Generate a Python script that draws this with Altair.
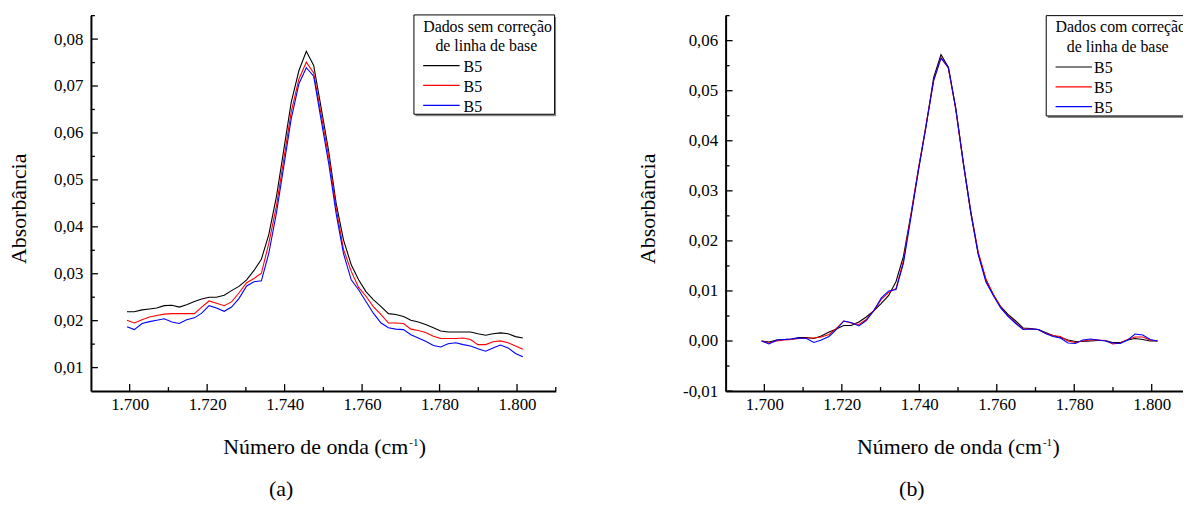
import altair as alt
import pandas as pd

# ---------------- data ----------------
wavenumber = [1699.3, 1701.2, 1703.2, 1705.1, 1707.0, 1708.9, 1710.9, 1712.8, 1714.7, 1716.7,
              1718.6, 1720.5, 1722.4, 1724.4, 1726.3, 1728.2, 1730.2, 1732.1, 1734.0, 1735.9,
              1737.9, 1739.8, 1741.7, 1743.7, 1745.6, 1747.5, 1749.4, 1751.4, 1753.3, 1755.2,
              1757.2, 1759.1, 1761.0, 1762.9, 1764.9, 1766.8, 1768.7, 1770.7, 1772.6, 1774.5,
              1776.4, 1778.4, 1780.3, 1782.2, 1784.2, 1786.1, 1788.0, 1789.9, 1791.9, 1793.8,
              1795.7, 1797.7, 1799.6, 1801.5]

# (a) sem correção de linha de base
left_black = [0.0219, 0.0219, 0.0223, 0.0225, 0.0227, 0.0232, 0.0233, 0.0229, 0.0234, 0.0241,
              0.0246, 0.0250, 0.0250, 0.0254, 0.0264, 0.0273, 0.0287, 0.0307, 0.0331, 0.0383,
              0.0465, 0.0565, 0.0665, 0.0733, 0.0774, 0.0744, 0.0655, 0.0560, 0.0450, 0.0372,
              0.0319, 0.0287, 0.0262, 0.0245, 0.0230, 0.0215, 0.0213, 0.0209, 0.0201, 0.0197,
              0.0192, 0.0185, 0.0178, 0.0176, 0.0176, 0.0176, 0.0176, 0.0172, 0.0169, 0.0172,
              0.0174, 0.0172, 0.0166, 0.0163]
left_red = [0.0201, 0.0195, 0.0202, 0.0208, 0.0211, 0.0214, 0.0215, 0.0215, 0.0215, 0.0215,
            0.0229, 0.0242, 0.0237, 0.0232, 0.0240, 0.0259, 0.0281, 0.0290, 0.0301, 0.0364,
            0.0445, 0.0545, 0.0645, 0.0715, 0.0751, 0.0728, 0.0640, 0.0548, 0.0440, 0.0352,
            0.0305, 0.0271, 0.0252, 0.0230, 0.0213, 0.0195, 0.0195, 0.0194, 0.0182, 0.0179,
            0.0175, 0.0167, 0.0162, 0.0162, 0.0162, 0.0163, 0.0160, 0.0149, 0.0149, 0.0155,
            0.0157, 0.0153, 0.0146, 0.0139]
left_blue = [0.0187, 0.0181, 0.0194, 0.0198, 0.0201, 0.0204, 0.0197, 0.0194, 0.0202, 0.0206,
             0.0216, 0.0232, 0.0227, 0.0220, 0.0229, 0.0247, 0.0274, 0.0283, 0.0285, 0.0343,
             0.0430, 0.0530, 0.0630, 0.0705, 0.0739, 0.0721, 0.0629, 0.0534, 0.0428, 0.0343,
             0.0287, 0.0266, 0.0241, 0.0216, 0.0195, 0.0185, 0.0182, 0.0181, 0.0170, 0.0163,
             0.0156, 0.0147, 0.0144, 0.0151, 0.0153, 0.0149, 0.0146, 0.0140, 0.0135, 0.0142,
             0.0148, 0.0142, 0.0130, 0.0123]

# (b) com correção de linha de base
right_black = [0.0000, -0.0002, 0.0002, 0.0003, 0.0004, 0.0007, 0.0007, 0.0005, 0.0010, 0.0018,
               0.0024, 0.0031, 0.0031, 0.0038, 0.0048, 0.0060, 0.0075, 0.0091, 0.0119, 0.0169,
               0.0255, 0.0344, 0.0427, 0.0526, 0.0572, 0.0547, 0.0466, 0.0354, 0.0255, 0.0175,
               0.0122, 0.0093, 0.0069, 0.0053, 0.0040, 0.0026, 0.0025, 0.0023, 0.0017, 0.0011,
               0.0007, 0.0002, -0.0001, -0.0001, 0.0000, 0.0001, 0.0001, -0.0003, -0.0003, 0.0002,
               0.0005, 0.0003, 0.0000, 0.0000]
right_red = [0.0000, -0.0004, 0.0000, 0.0002, 0.0003, 0.0005, 0.0006, 0.0006, 0.0008, 0.0013,
             0.0025, 0.0040, 0.0036, 0.0033, 0.0043, 0.0060, 0.0083, 0.0097, 0.0105, 0.0160,
             0.0255, 0.0345, 0.0430, 0.0520, 0.0566, 0.0545, 0.0463, 0.0353, 0.0258, 0.0178,
             0.0124, 0.0093, 0.0068, 0.0050, 0.0036, 0.0024, 0.0024, 0.0023, 0.0015, 0.0011,
             0.0009, 0.0000, -0.0003, 0.0000, 0.0002, 0.0002, 0.0001, -0.0006, -0.0004, 0.0003,
             0.0008, 0.0008, 0.0002, 0.0000]
right_blue = [0.0000, -0.0006, 0.0002, 0.0003, 0.0004, 0.0006, 0.0005, -0.0003, 0.0002, 0.0009,
              0.0023, 0.0040, 0.0037, 0.0030, 0.0041, 0.0060, 0.0086, 0.0100, 0.0103, 0.0155,
              0.0250, 0.0342, 0.0427, 0.0520, 0.0565, 0.0547, 0.0465, 0.0355, 0.0258, 0.0173,
              0.0118, 0.0091, 0.0066, 0.0049, 0.0035, 0.0023, 0.0024, 0.0023, 0.0015, 0.0009,
              0.0006, -0.0004, -0.0005, 0.0002, 0.0004, 0.0002, 0.0000, -0.0004, -0.0005, 0.0002,
              0.0014, 0.0012, 0.0003, 0.0000]

series_keys = ["B5 (1)", "B5 (2)", "B5 (3)"]
series_colors = ["#000000", "#ff0000", "#0000ff"]
legend_labels = ["B5", "B5", "B5"]
left_legend_title = ["Dados sem correção", "de linha de base"]
right_legend_title = ["Dados com correção", "de linha de base"]
captions = ["(a)", "(b)"]
x_title_main = "Número de onda (cm"
x_title_sup = "-1"
x_title_end = ")"
y_title = "Absorbância"

x_label_values = [1700, 1720, 1740, 1760, 1780, 1800]
x_minor_values = [1710, 1730, 1750, 1770, 1790, 1810]
left_y_major = [0.01, 0.02, 0.03, 0.04, 0.05, 0.06, 0.07, 0.08]
left_y_minor = [0.015, 0.025, 0.035, 0.045, 0.055, 0.065, 0.075, 0.085]
right_y_major = [-0.01, 0.0, 0.01, 0.02, 0.03, 0.04, 0.05, 0.06]
right_y_minor = [-0.005, 0.005, 0.015, 0.025, 0.035, 0.045, 0.055, 0.065]

# ---------------- layout ----------------
FONT = "Liberation Serif"
W, H = 1183, 493
AXIS_Y = 384          # x-axis line (svg px)
TOP_Y = 6             # top of y-axis
LEGEND_FS = 16

one = pd.DataFrame({"k": [0]})
color_scale = alt.Scale(domain=series_keys, range=series_colors)

X_LABEL_EXPR = "replace(format(datum.value, ',d'), ',', '.')"
Y_LABEL_EXPR = "replace(replace(format(datum.value, '.2f'), '.', ','), '\u2212', '-')"


def long_frame(ys):
    xs, vs, ss = [], [], []
    for key, vals in zip(series_keys, ys):
        xs += wavenumber
        vs += vals
        ss += [key] * len(vals)
    return pd.DataFrame({"x": xs, "y": vs, "series": ss})


def text(s, x, y, size, align="left", baseline="alphabetic"):
    return alt.Chart(one).mark_text(text=s, font=FONT, fontSize=size, color="black",
                                    align=align, baseline=baseline).encode(
        x=alt.value(x), y=alt.value(y))


def panel(ys, x_range, y_domain, y_major, y_minor, title_dx, title_y,
          legend_box, legend_title, legend_title_x, legend_title_y,
          legend_line_x, legend_rows_y, legend_label_x, xtitle_end_x, caption, caption_x):
    xs = alt.Scale(domain=[1690, 1810], range=x_range, nice=False, zero=False)
    ysc = alt.Scale(domain=y_domain, range=[AXIS_Y, TOP_Y], nice=False, zero=False)
    ax0 = x_range[0]

    x_axis = alt.Axis(orient="bottom", offset=AXIS_Y - H, values=x_label_values,
                      labelExpr=X_LABEL_EXPR, ticks=False, tickSize=0, grid=False,
                      domainColor="black", domainWidth=2, labelFont=FONT, labelFontSize=17,
                      labelColor="black", labelPadding=6, labelFlush=False, labelOverlap=False,
                      title="")
    y_axis = alt.Axis(orient="left", offset=-ax0, values=y_major, labelExpr=Y_LABEL_EXPR,
                      ticks=False, tickSize=0, grid=False, domainColor="black", domainWidth=2,
                      labelFont=FONT, labelFontSize=17, labelColor="black", labelPadding=8,
                      labelFlush=False, labelOverlap=False,
                      title=y_title, titleFont=FONT, titleFontSize=22, titleFontWeight="normal",
                      titleColor="black", titleAngle=270, titleBaseline="middle",
                      titleAlign="center", titleX=title_dx, titleY=title_y)

    lines = alt.Chart(long_frame(ys)).mark_line(strokeWidth=1.1).encode(
        x=alt.X("x:Q", scale=xs, axis=x_axis),
        y=alt.Y("y:Q", scale=ysc, axis=y_axis),
        color=alt.Color("series:N", scale=color_scale, legend=None),
    )

    def xticks(vals, length):
        return alt.Chart(pd.DataFrame({"v": vals})).mark_rule(color="black", strokeWidth=1.3).encode(
            x=alt.X("v:Q", scale=xs, axis=None), y=alt.value(AXIS_Y), y2=alt.value(AXIS_Y - length))

    def yticks(vals, length):
        return alt.Chart(pd.DataFrame({"v": vals})).mark_rule(color="black", strokeWidth=1.3).encode(
            y=alt.Y("v:Q", scale=ysc, axis=None), x=alt.value(ax0), x2=alt.value(ax0 + length))

    layers = [lines, xticks(x_label_values, 7), xticks(x_minor_values, 4),
              yticks(y_major, 7), yticks(y_minor, 4)]

    # legend box
    bx0, bx1, by0, by1 = legend_box
    layers.append(alt.Chart(one).mark_rect(color="#8a8a8a").encode(
        x=alt.value(bx0 + 1.5), x2=alt.value(bx1 + 1.5), y=alt.value(by0 + 2), y2=alt.value(by1 + 2)))
    layers.append(alt.Chart(one).mark_rect(fill="white", stroke="black", strokeWidth=1).encode(
        x=alt.value(bx0), x2=alt.value(bx1), y=alt.value(by0), y2=alt.value(by1)))
    for line, tx, ty in zip(legend_title, legend_title_x, legend_title_y):
        layers.append(text(line, tx, ty, LEGEND_FS))
    for key_color, label, ry in zip(series_colors, legend_labels, legend_rows_y):
        layers.append(alt.Chart(one).mark_rule(color=key_color, strokeWidth=1.2).encode(
            x=alt.value(legend_line_x[0]), x2=alt.value(legend_line_x[1]), y=alt.value(ry)))
        layers.append(text(label, legend_label_x, ry + 6.3, LEGEND_FS))

    # x-axis title with superscript and caption
    layers.append(text(x_title_main, xtitle_end_x, 447, 22, align="right"))
    layers.append(text(x_title_sup, xtitle_end_x + 1, 439, 11))
    layers.append(text(x_title_end, xtitle_end_x + 10.5, 447, 22))
    layers.append(text(caption, caption_x, 490, 22, align="center"))
    return layers


left_layers = panel(
    [left_black, left_red, left_blue], [83.5, 551.5], [0.005, 0.085], left_y_major, left_y_minor,
    -72.5, 200,
    (408.7, 550.3, 5.3, 105.3), left_legend_title, [418, 430.3], [22, 42],
    (418, 454.7), [56.3, 76.3, 96.3], 458.7, 403, captions[0], 275)

right_layers = panel(
    [right_black, right_red, right_blue], [722.5, 1190.5], [-0.01, 0.065], right_y_major, right_y_minor,
    -78.5, 200,
    (1045.3, 1210, 6, 107), right_legend_title, [1054.7, 1066], [22.7, 42.7],
    (1054.7, 1091.3), [57.7, 77.7, 97.7], 1093.5, 1041, captions[1], 910)

chart = alt.layer(*(left_layers + right_layers)).resolve_scale(
    x="independent", y="independent"
).properties(
    width=W, height=H, padding=0, autosize=alt.AutoSizeParams(type="none")
).configure(font=FONT).configure_axis(
    labelFont=FONT, titleFont=FONT
).configure_text(font=FONT).configure_view(strokeWidth=0)

chart.save("out.html", embed_options={"renderer": "svg", "actions": False})
